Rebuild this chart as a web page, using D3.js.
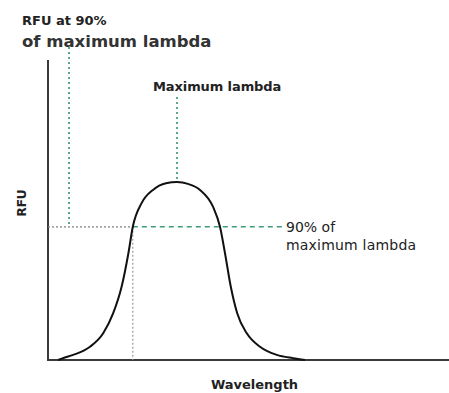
<!DOCTYPE html>
<html>
<head>
<meta charset="utf-8">
<script src="https://cdn.jsdelivr.net/npm/d3@7"></script>
<style>
  html, body { margin: 0; padding: 0; background: #fff; }
  svg { display: block; font-family: "DejaVu Sans", Verdana, sans-serif; }
</style>
</head>
<body>
<svg id="chart" width="449" height="393"></svg>
<script>
// Emission spectrum (arbitrary units): wavelength vs. RFU
const wavelength = [2.5, 3.75, 6.3, 10.5, 13.8, 16.3, 18.4, 20.1, 21.2, 23.4, 26.25, 29.5, 32.25, 35, 38, 41.25, 43, 44.25, 45.7, 47.3, 49.7, 53, 57.2, 61.25, 64.25];
const rfu        = [0, 0.6, 1.7, 4.4, 8.9, 15.6, 24.4, 35.6, 44.4, 52.3, 56.7, 58.9, 59.3, 58.7, 56.7, 51.1, 44.4, 35.6, 24.4, 15.6, 8.9, 4.4, 1.7, 0.6, 0];

// Reference points on the curve
const peakWavelength = 32.25;
const peakRFU = 59.3;
const levelRFU = 44.4;          // the marked RFU level
const levelLeftX = 21.2;        // where the rising edge meets that level

const labels = {
  titleTop: "RFU at 90%",
  titleBottom: "of maximum lambda",
  peak: "Maximum lambda",
  levelLine1: "90% of",
  levelLine2: "maximum lambda",
  xAxis: "Wavelength",
  yAxis: "RFU"
};

const svg = d3.select("#chart");
const x = d3.scaleLinear().domain([0, 100]).range([48, 448]);
const y = d3.scaleLinear().domain([0, 100]).range([360, 60]);

// Axes (plain lines, no ticks)
svg.append("line")
  .attr("x1", x(0)).attr("x2", x(0))
  .attr("y1", y(100)).attr("y2", y(0) + 1)
  .attr("stroke", "#3a3a3a").attr("stroke-width", 2);
svg.append("line")
  .attr("x1", x(0) - 1).attr("x2", 449)
  .attr("y1", y(0)).attr("y2", y(0))
  .attr("stroke", "#3a3a3a").attr("stroke-width", 2);

// Guide lines
const green = "#5aab84";
// left marker for the RFU level
svg.append("line")
  .attr("x1", x(5.25)).attr("x2", x(5.25))
  .attr("y1", y(104.3)).attr("y2", y(45.3))
  .attr("stroke", green).attr("stroke-width", 2)
  .attr("stroke-dasharray", "2,3");
// peak marker
svg.append("line")
  .attr("x1", x(peakWavelength)).attr("x2", x(peakWavelength))
  .attr("y1", y(87.7)).attr("y2", y(peakRFU))
  .attr("stroke", green).attr("stroke-width", 2)
  .attr("stroke-dasharray", "2,3");
// level line: gray part up to the curve, green dashes across the peak
svg.append("line")
  .attr("x1", x(0)).attr("x2", x(levelLeftX))
  .attr("y1", y(levelRFU)).attr("y2", y(levelRFU))
  .attr("stroke", "#808080").attr("stroke-width", 1.2)
  .attr("stroke-dasharray", "2,2");
svg.append("line")
  .attr("x1", x(levelLeftX)).attr("x2", x(58.5))
  .attr("y1", y(levelRFU)).attr("y2", y(levelRFU))
  .attr("stroke", "#3f9b74").attr("stroke-width", 1.5)
  .attr("stroke-dasharray", "5,4");
// drop line to the wavelength axis
svg.append("line")
  .attr("x1", x(levelLeftX)).attr("x2", x(levelLeftX))
  .attr("y1", y(levelRFU)).attr("y2", y(0))
  .attr("stroke", "#9a9a9a").attr("stroke-width", 1.2)
  .attr("stroke-dasharray", "2,2");

// Spectrum curve
const pts = wavelength.map((w, i) => [w, rfu[i]]);
svg.append("path")
  .datum(pts)
  .attr("fill", "none")
  .attr("stroke", "#111")
  .attr("stroke-width", 2)
  .attr("d", d3.line().x(d => x(d[0])).y(d => y(d[1])).curve(d3.curveMonotoneX));

// Text
const txt = (s, px, py, size, weight, fill) =>
  svg.append("text").attr("x", px).attr("y", py)
    .attr("font-size", size).attr("font-weight", weight)
    .attr("fill", fill).text(s);

txt(labels.titleTop, 22, 25, 13, "bold", "#222");
txt(labels.titleBottom, 22, 47, 16.5, "bold", "#333");
txt(labels.peak, 153, 91, 13, "bold", "#222").attr("letter-spacing", -0.1);
txt(labels.levelLine1, 286, 232, 14, "normal", "#222");
txt(labels.levelLine2, 286, 250, 14, "normal", "#222").attr("letter-spacing", 0.2);
txt(labels.xAxis, 254.5, 389, 13, "bold", "#222").attr("text-anchor", "middle");
svg.append("text")
  .attr("transform", "translate(26,203) rotate(-90)")
  .attr("text-anchor", "middle")
  .attr("font-size", 12).attr("font-weight", "bold").attr("fill", "#222")
  .text(labels.yAxis);
</script>
</body>
</html>
